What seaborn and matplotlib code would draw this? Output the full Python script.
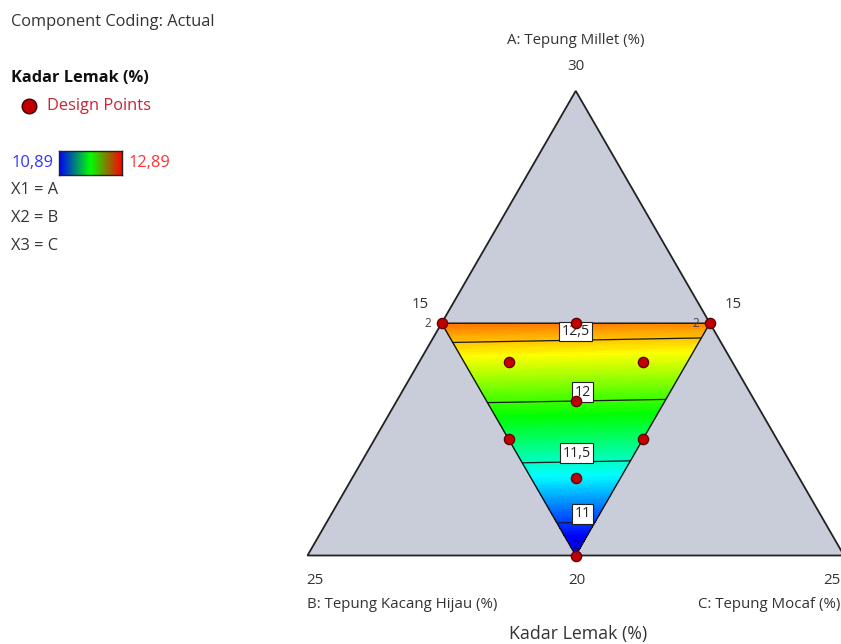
import numpy as np
import pandas as pd
import matplotlib
matplotlib.use("Agg")
import matplotlib.pyplot as plt
import matplotlib.tri as mtri
from matplotlib.colors import LinearSegmentedColormap, Normalize
import seaborn as sns

# ---------------------------------------------------------------------------
# Mixture design runs, as fractions of the displayed simplex (A top, B left, C right)
run_A = [0.5, 0.5, 0.0, 0.5, 0.25, 0.25, 0.333, 0.417, 0.417, 0.167]
run_B = [0.5, 0.0, 0.5, 0.25, 0.5, 0.25, 0.333, 0.417, 0.167, 0.417]
run_C = [0.0, 0.5, 0.5, 0.25, 0.25, 0.5, 0.333, 0.167, 0.417, 0.417]
replicates = [2, 2, 2, 1, 1, 1, 1, 1, 1, 1]

# Constrained region vertices (A, B, C) and the fitted linear response at each
region_vertices = [(0.5, 0.5, 0.0), (0.5, 0.0, 0.5), (0.0, 0.5, 0.5)]
vertex_response = [12.66, 12.62, 10.73]

contour_levels = [11.0, 11.5, 12.0, 12.5]
contour_labels = ["11", "11,5", "12", "12,5"]
response_min, response_max = 10.89, 12.89

axis_titles = ["A: Tepung Millet (%)", "B: Tepung Kacang Hijau (%)", "C: Tepung Mocaf (%)"]
vertex_ticks = ["30", "25", "25"]
edge_ticks = ["15", "15", "20"]
legend_lines = ["X1 = A", "X2 = B", "X3 = C"]

# ---------------------------------------------------------------------------
sns.set_theme(style="white")
plt.rcParams["font.family"] = ["Open Sans", "DejaVu Sans"]

W, H = 841, 644
fig = plt.figure(figsize=(W / 100, H / 100), dpi=100)
ax = fig.add_axes([0, 0, 1, 1])

# ternary -> cartesian (unit simplex, B at origin, C at (1,0))
SQ = np.sqrt(3) / 2


def to_xy(a, b, c):
    a, b, c = np.asarray(a, float), np.asarray(b, float), np.asarray(c, float)
    s = a + b + c
    return (c + 0.5 * a) / s, SQ * a / s


X0, Y0, SCALE = 307.5, 555.5, 536.5
ax.set_xlim(-X0 / SCALE, (W - X0) / SCALE)
ax.set_ylim((Y0 - H) / SCALE, Y0 / SCALE)
ax.axis("off")


def fpos(px, py):
    return px / W, 1 - py / H


# outer simplex
ax.fill([0, 1, 0.5], [0, 0, SQ], facecolor="#c8cdd9", edgecolor="#222222",
        linewidth=1.3, zorder=1)

# response surface on the constrained region
n = 90
pts_l = []
for i in range(n + 1):
    for j in range(n + 1 - i):
        pts_l.append((i / n, j / n, (n - i - j) / n))
pts_l = np.array(pts_l)
V = np.array(region_vertices)
abc = pts_l @ V
gx, gy = to_xy(abc[:, 0], abc[:, 1], abc[:, 2])
gz = pts_l @ np.array(vertex_response)
tri = mtri.Triangulation(gx, gy)

rainbow = LinearSegmentedColormap.from_list(
    "rainbow5", ["#0000ff", "#00ffff", "#00ff00", "#ffff00", "#ff0000"])
norm = Normalize(vmin=response_min, vmax=response_max, clip=True)
ax.tricontourf(tri, gz, levels=np.linspace(10.6, 12.9, 160), cmap=rainbow,
               norm=norm, zorder=2)
ax.tricontour(tri, gz, levels=contour_levels, colors="#1a1a1a",
              linewidths=0.9, zorder=3)

vx, vy = to_xy(V[:, 0], V[:, 1], V[:, 2])
ax.fill(vx, vy, facecolor="none", edgecolor="#111111", linewidth=1.0, zorder=3)

# contour value boxes along the centre line of the region
label_dx = [5, 0.7, 5, 0]
top_mid = (np.array(region_vertices[0]) + np.array(region_vertices[1])) / 2
top_val = (vertex_response[0] + vertex_response[1]) / 2
for lev, txt, dx in zip(contour_levels, contour_labels, label_dx):
    t = (top_val - lev) / (top_val - vertex_response[2])
    p = (1 - t) * top_mid + t * np.array(region_vertices[2])
    lx, ly = to_xy(*p)
    ax.annotate(txt, (lx, ly), xytext=(dx, 6.3), textcoords="offset points",
                ha="center", va="center", fontsize=10.3, color="#222222",
                bbox=dict(boxstyle="square,pad=0.17", fc="white", ec="#222222",
                          lw=0.8), zorder=4)

# design points
px, py = to_xy(run_A, run_B, run_C)
runs = pd.DataFrame({"x": px, "y": py, "reps": replicates})
sns.scatterplot(data=runs, x="x", y="y", s=55, color="#c00000",
                edgecolor="#5a0000", linewidth=0.9, ax=ax, zorder=5, legend=False)
ax.set_xlabel("")
ax.set_ylabel("")

# replicate counts
rep_offsets = [(-10, 0), (-10, 0), (0, 7)]
rep_colors = ["#444444", "#444444", "#000066"]
k = 0
for _, r in runs.iterrows():
    if r["reps"] > 1:
        ox, oy = rep_offsets[k]
        ax.annotate(str(int(r["reps"])), (r["x"], r["y"]), xytext=(ox, oy),
                    textcoords="offset points", ha="center", va="center",
                    fontsize=8.5, color=rep_colors[k], zorder=6)
        k += 1

# axis titles and ticks
tc = "#333333"
fs_ax = 10.8
fig.text(*fpos(576, 40), axis_titles[0], ha="center", va="center", fontsize=fs_ax, color=tc)
fig.text(*fpos(576, 67), vertex_ticks[0], ha="center", va="center", fontsize=fs_ax, color=tc)
fig.text(*fpos(315, 580), vertex_ticks[1], ha="center", va="center", fontsize=fs_ax, color=tc)
fig.text(*fpos(841, 580), vertex_ticks[2], ha="right", va="center", fontsize=fs_ax, color=tc)
fig.text(*fpos(420, 305), edge_ticks[0], ha="center", va="center", fontsize=fs_ax, color=tc)
fig.text(*fpos(733, 305), edge_ticks[1], ha="center", va="center", fontsize=fs_ax, color=tc)
fig.text(*fpos(577, 580), edge_ticks[2], ha="center", va="center", fontsize=fs_ax, color=tc)
fig.text(*fpos(307, 605), axis_titles[1], ha="left", va="center", fontsize=fs_ax, color=tc)
fig.text(*fpos(840, 605), axis_titles[2], ha="right", va="center", fontsize=fs_ax, color=tc)
fig.text(*fpos(578, 634), "Kadar Lemak (%)", ha="center", va="center", fontsize=12.8, color=tc)

# left-hand legend block
fs_lg = 11.8
fig.text(*fpos(11, 22), "Component Coding: Actual", ha="left", va="center", fontsize=fs_lg, color=tc)
fig.text(*fpos(11, 78), "Kadar Lemak (%)", ha="left", va="center", fontsize=fs_lg,
         fontweight="bold", color="#111111")
mx, my = fpos(29, 106)
fig.add_artist(plt.Line2D([mx], [my], marker="o", markersize=10.5, color="#c00000",
                          markeredgecolor="#3a0000", markeredgewidth=1.0,
                          transform=fig.transFigure))
fig.text(*fpos(47, 106), "Design Points", ha="left", va="center", fontsize=fs_lg, color="#cc2233")
fig.text(*fpos(11, 163), "10,89", ha="left", va="center", fontsize=fs_lg, color="#3333ff")
fig.text(*fpos(128, 163), "12,89", ha="left", va="center", fontsize=fs_lg, color="#ff3333")

cax = fig.add_axes([59 / W, 1 - 175 / H, 63 / W, 24 / H])
legend_cmap = LinearSegmentedColormap.from_list("bgr", ["#0000ff", "#00ff00", "#ff0000"])
cax.imshow(np.linspace(0, 1, 256)[None, :], aspect="auto", cmap=legend_cmap)
cax.set_xticks([])
cax.set_yticks([])
for s in cax.spines.values():
    s.set_color("#222222")
    s.set_linewidth(1.0)

for i, line in enumerate(legend_lines):
    fig.text(*fpos(11, 190 + 28 * i), line, ha="left", va="center", fontsize=fs_lg, color=tc)

fig.savefig("out.png", dpi=100)
